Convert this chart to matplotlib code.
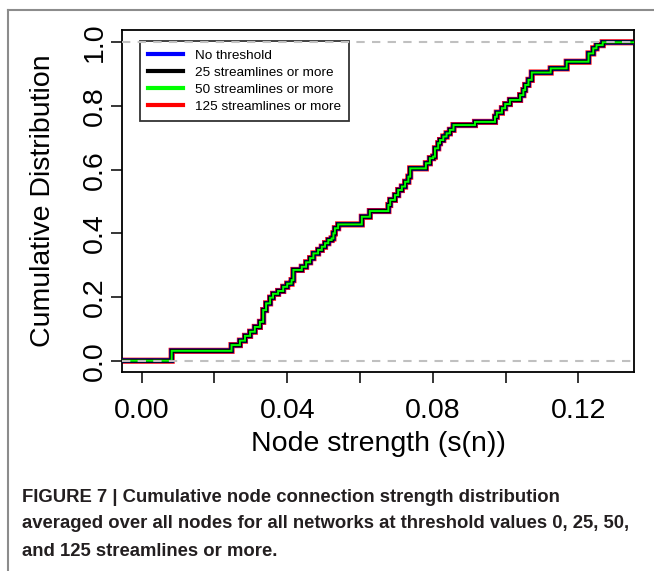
import matplotlib
matplotlib.use('Agg')
import matplotlib.pyplot as plt
from matplotlib.lines import Line2D
import numpy as np

# step positions (node strength) and cumulative value after each step
strength = [0.00825, 0.0247, 0.0270, 0.0284, 0.0298, 0.0311, 0.0325, 0.0334, 0.0342,
            0.0353, 0.0361, 0.0375, 0.0389, 0.0400, 0.0412, 0.0417, 0.0440, 0.0452,
            0.0463, 0.0472, 0.0485, 0.0495, 0.0504, 0.0513, 0.0522, 0.0527, 0.0531,
            0.0540, 0.0605, 0.0627, 0.0678, 0.0683, 0.0696, 0.0705, 0.0715, 0.0724,
            0.0733, 0.0738, 0.0781, 0.0792, 0.0801, 0.0806, 0.0815, 0.0820, 0.0829,
            0.0838, 0.0847, 0.0857, 0.0916, 0.0971, 0.0976, 0.0990, 0.0999, 0.1012,
            0.1040, 0.1049, 0.1054, 0.1063, 0.1072, 0.1124, 0.1168, 0.1228, 0.1241,
            0.1250, 0.1267]
cum = [0.031, 0.049, 0.063, 0.078, 0.091, 0.106, 0.122, 0.159, 0.180,
       0.198, 0.210, 0.219, 0.232, 0.242, 0.253, 0.285, 0.295, 0.309,
       0.322, 0.337, 0.348, 0.358, 0.369, 0.379, 0.384, 0.400, 0.416,
       0.428, 0.452, 0.470, 0.489, 0.505, 0.520, 0.536, 0.547, 0.562,
       0.578, 0.604, 0.620, 0.636, 0.641, 0.667, 0.683, 0.693, 0.704,
       0.714, 0.725, 0.740, 0.750, 0.766, 0.779, 0.793, 0.806, 0.819,
       0.834, 0.850, 0.866, 0.882, 0.905, 0.918, 0.939, 0.965, 0.981,
       0.991, 1.000]

series = ['No threshold', '25 streamlines or more', '50 streamlines or more',
          '125 streamlines or more']
colors = ['#0000ff', '#000000', '#00ff00', '#ff0000']
widths = [3.4, 3.0, 1.4, 4.4]
zorders = [3, 4, 5, 2]

xlim = (-0.0054, 0.1353)
ylim = (-0.0355, 1.0386)

plt.rcParams['font.family'] = ['Liberation Sans', 'DejaVu Sans']

fig = plt.figure(figsize=(6.54, 5.71), dpi=100)
ax = fig.add_axes([122/654, 1-372/571, 512/654, 342/571])

xs = np.concatenate([[xlim[0]], strength, [xlim[1]]])
ys = np.concatenate([[0.0], cum, [cum[-1]]])
for name, c, w, z in zip(series, colors, widths, zorders):
    ax.step(xs, ys, where='post', color=c, lw=w, zorder=z, label=name,
            solid_joinstyle='miter', snap=False)

for h in [0, 1]:
    ax.axhline(h, color='#c0c0c0', lw=1.5, ls=(0, (4, 3.5)), zorder=6)

ax.set_xlim(xlim)
ax.set_ylim(ylim)
ax.set_xticks([0.00, 0.02, 0.04, 0.06, 0.08, 0.10, 0.12])
ax.set_xticklabels(['0.00', '', '0.04', '', '0.08', '', '0.12'])
ax.set_yticks([0.0, 0.2, 0.4, 0.6, 0.8, 1.0])
ax.set_yticklabels(['0.0', '0.2', '0.4', '0.6', '0.8', '1.0'], rotation=90, va='center')
ax.tick_params(direction='out', length=8, width=1.1, labelsize=20.5, pad=2)
ax.tick_params(axis='x', pad=11)
for s in ax.spines.values():
    s.set_linewidth(1.3)
ax.set_xlabel('Node strength (s(n))', fontsize=20.5, labelpad=5)
ax.set_ylabel('Cumulative Distribution', fontsize=20.5, labelpad=19)

handles = [Line2D([], [], color=c, lw=3) for c in colors]
leg = ax.legend(handles, series, loc='upper left', bbox_to_anchor=(0.035, 0.967),
                fontsize=9.7, frameon=True, fancybox=False, edgecolor='black',
                borderpad=0.6, labelspacing=0.34, handlelength=2.6, handletextpad=0.9,
                borderaxespad=0)
leg.get_frame().set_linewidth(1.3)

# grey frame around the figure panel
fig.add_artist(Line2D([8/654, 1], [1-10/571, 1-10/571], color='#8c8c8c', lw=1.5))
fig.add_artist(Line2D([8/654, 8/654], [0, 1-10/571], color='#8c8c8c', lw=1.5))

caption = ['FIGURE 7 | Cumulative node connection strength distribution',
           'averaged over all nodes for all networks at threshold values 0, 25, 50,',
           'and 125 streamlines or more.']
for i, line in enumerate(caption):
    fig.text(22/654, 1-(497+27*i)/571, line, fontsize=13.3, fontweight='bold',
             color='#231f20', va='center')

fig.savefig('out.png', dpi=100)
